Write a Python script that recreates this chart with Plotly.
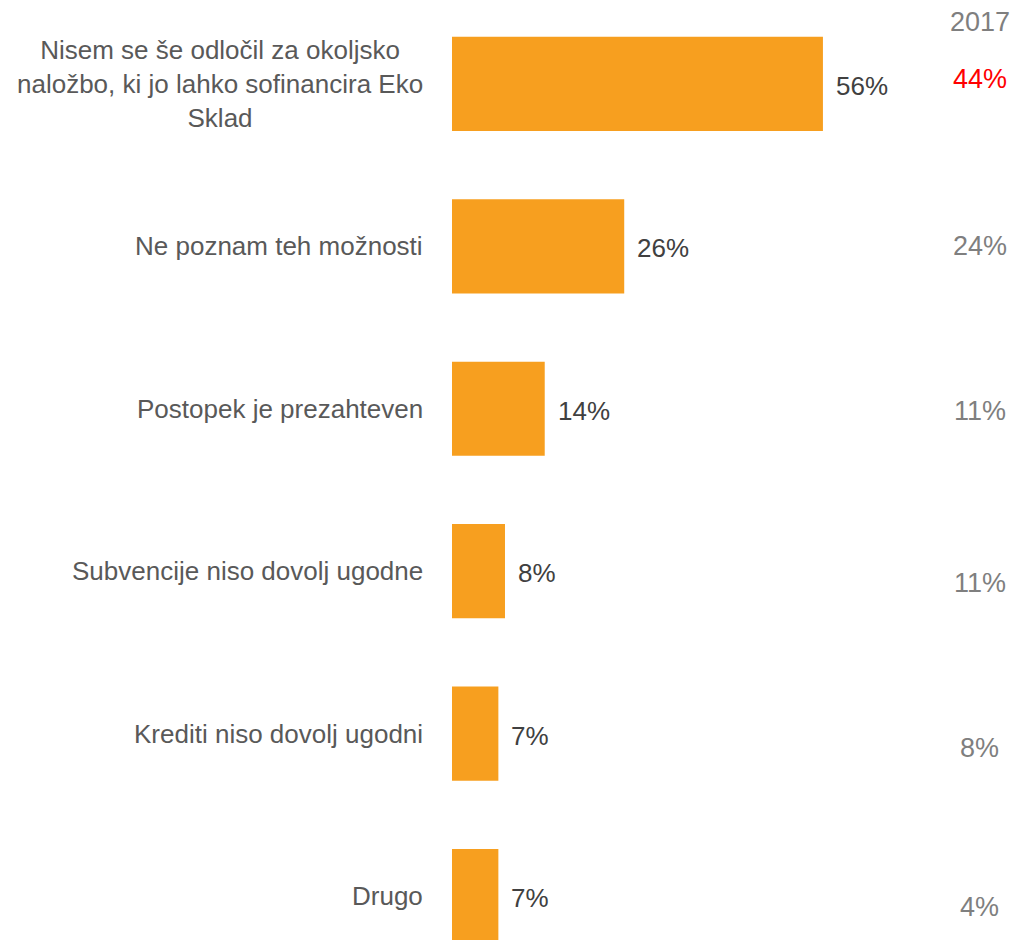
import plotly.graph_objects as go

categories = [
    "Nisem se še odločil za okoljsko<br>naložbo, ki jo lahko sofinancira Eko<br>Sklad",
    "Ne poznam teh možnosti",
    "Postopek je prezahteven",
    "Subvencije niso dovolj ugodne",
    "Krediti niso dovolj ugodni",
    "Drugo",
]
values_now = [56, 26, 14, 8, 7, 7]
values_2017 = [44, 24, 11, 11, 8, 4]
label_2017 = "2017"

# styling
FONT = "Arial, Liberation Sans, sans-serif"
BAR_COLOR = "#F79F1F"
CAT_COLOR = "#595959"
VAL_COLOR = "#404040"
GREY = "#7F7F7F"
RED = "#FF0000"
shift_2017 = [5, 0, -2, -11.5, -14.5, -11]
colors_2017 = [RED, GREY, GREY, GREY, GREY, GREY]

idx = list(range(len(categories)))

fig = go.Figure(go.Bar(
    x=values_now, y=idx, orientation="h",
    marker=dict(color=BAR_COLOR, line=dict(width=0)),
    width=0.58, hoverinfo="skip",
))

ann = []
for i, (c, v) in enumerate(zip(categories, values_now)):
    ann.append(dict(x=0, xref="paper", y=i, yref="y", text=c, showarrow=False,
                    xanchor="right", yanchor="middle", xshift=-27, align="center",
                    font=dict(family=FONT, size=26, color=CAT_COLOR)))
    ann.append(dict(x=v, xref="x", y=i, yref="y", text=f"{v}%", showarrow=False,
                    xanchor="left", yanchor="middle", xshift=11, yshift=-2,
                    font=dict(family=FONT, size=26, color=VAL_COLOR)))
for i, v in enumerate(values_2017):
    ann.append(dict(x=0.931, xref="paper", y=i, yref="y", text=f"{v}%", showarrow=False,
                    xanchor="center", yanchor="middle", yshift=shift_2017[i],
                    font=dict(family=FONT, size=27, color=colors_2017[i])))
ann.append(dict(x=0.931, xref="paper", y=0, yref="y", text=label_2017, showarrow=False,
                xanchor="center", yanchor="middle", yshift=62,
                font=dict(family=FONT, size=27, color=GREY)))

fig.update_layout(
    width=1019, height=940,
    margin=dict(l=452, r=0, t=0, b=0),
    paper_bgcolor="white", plot_bgcolor="white",
    showlegend=False,
    xaxis=dict(range=[0, 85.6], visible=False, fixedrange=True),
    yaxis=dict(range=[5.271, -0.517], visible=False, fixedrange=True),
    annotations=ann,
)

fig.write_html(
    "out.html",
    config={"displayModeBar": False},
    post_script="document.body.style.margin='0';document.body.style.overflow='hidden';",
)
